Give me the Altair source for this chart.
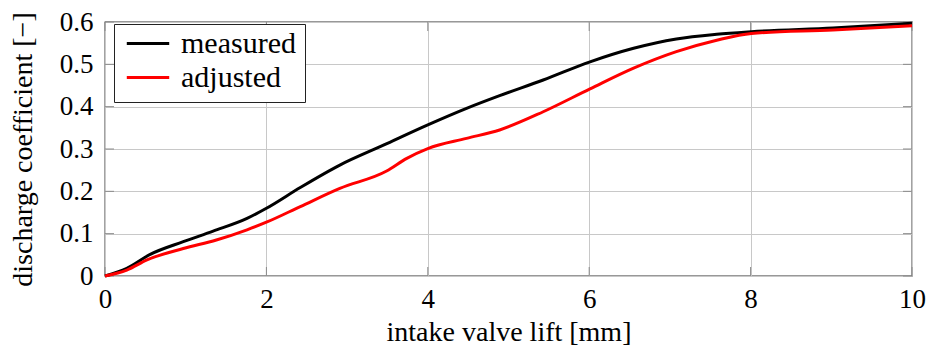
import altair as alt
import pandas as pd

# Discharge coefficient vs. intake valve lift
lift_measured = [0.0, 0.27, 0.56, 0.97, 1.34, 1.76, 2.0, 2.42, 2.91, 3.45, 4.0,
                 4.48, 4.89, 5.43, 6.01, 6.55, 7.08, 7.58, 8.01, 9.02, 10.0]
cd_measured = [0.0, 0.018, 0.051, 0.081, 0.106, 0.136, 0.160, 0.209, 0.262, 0.309, 0.357,
               0.396, 0.426, 0.463, 0.506, 0.538, 0.560, 0.571, 0.577, 0.586, 0.597]

lift_adjusted = [0.0, 0.27, 0.52, 0.97, 1.38, 1.76, 2.0, 2.42, 2.91, 3.49, 3.74, 4.0,
                 4.48, 4.89, 5.43, 6.01, 6.55, 7.08, 7.58, 8.01, 9.02, 10.0]
cd_adjusted = [0.0, 0.014, 0.038, 0.065, 0.085, 0.109, 0.127, 0.164, 0.207, 0.248, 0.278, 0.301,
               0.325, 0.345, 0.388, 0.442, 0.491, 0.530, 0.557, 0.573, 0.581, 0.591]

series_names = ["measured", "adjusted"]
series_colors = ["#000000", "#ff0000"]
x_ticks = [0, 2, 4, 6, 8, 10]
y_ticks = [0, 0.1, 0.2, 0.3, 0.4, 0.5, 0.6]

W, H = 807, 254
FONT = "Liberation Serif"
TICK_LEN = 9

curves = pd.concat([
    pd.DataFrame({"lift": lift_measured, "cd": cd_measured, "series": "measured", "order": range(len(lift_measured))}),
    pd.DataFrame({"lift": lift_adjusted, "cd": cd_adjusted, "series": "adjusted", "order": range(len(lift_adjusted))}),
])

x_scale = alt.Scale(domain=[0, 10], nice=False)
y_scale = alt.Scale(domain=[0, 0.6], nice=False)

lines = alt.Chart(curves).mark_line(strokeWidth=3, interpolate="monotone").encode(
    x=alt.X("lift:Q", scale=x_scale,
            axis=alt.Axis(values=x_ticks, title="intake valve lift [mm]", format="d")),
    y=alt.Y("cd:Q", scale=y_scale,
            axis=alt.Axis(values=y_ticks, title="discharge coefficient [−]",
                          labelExpr="datum.value == 0 ? '0' : format(datum.value, '.1f')")),
    color=alt.Color("series:N", scale=alt.Scale(domain=series_names, range=series_colors),
                    sort=series_names,
                    legend=alt.Legend(title=None, orient="none", legendX=9, legendY=2,
                                      symbolType="stroke", symbolStrokeWidth=3,
                                      symbolSize=1800, symbolOffset=2,
                                      labelFontSize=30, labelFont=FONT,
                                      labelColor="#000", labelOffset=10,
                                      strokeColor="#222", fillColor="white", padding=9,
                                      rowPadding=3, clipHeight=21)),
    order="order:Q",
)

# inward tick marks on all four sides of the frame
xt = pd.DataFrame({"v": x_ticks})
yt = pd.DataFrame({"v": y_ticks})
tick_color = "#8a8a8a"
ticks = [
    alt.Chart(xt).mark_rule(color=tick_color, strokeWidth=1).encode(
        x=alt.X("v:Q", scale=x_scale), y=alt.value(0), y2=alt.value(TICK_LEN)),
    alt.Chart(xt).mark_rule(color=tick_color, strokeWidth=1).encode(
        x=alt.X("v:Q", scale=x_scale), y=alt.value(H), y2=alt.value(H - TICK_LEN)),
    alt.Chart(yt).mark_rule(color=tick_color, strokeWidth=1).encode(
        y=alt.Y("v:Q", scale=y_scale), x=alt.value(0), x2=alt.value(TICK_LEN)),
    alt.Chart(yt).mark_rule(color=tick_color, strokeWidth=1).encode(
        y=alt.Y("v:Q", scale=y_scale), x=alt.value(W), x2=alt.value(W - TICK_LEN)),
]

chart = alt.layer(*ticks, lines).properties(
    width=W, height=H,
    autosize=alt.AutoSizeParams(type="none"),
    padding={"left": 105, "top": 22, "right": 16, "bottom": 78},
).configure_view(
    stroke="#333333", strokeWidth=1.3
).configure_axis(
    domain=False, ticks=False, grid=True, gridColor="#c8c8c8", gridWidth=1,
    labelFont=FONT, labelFontSize=27, labelColor="#000", labelFlush=False,
    titleFont=FONT, titleFontSize=28, titleFontWeight="normal", titleColor="#000",
).configure_axisX(
    labelPadding=10, titlePadding=6,
).configure_axisY(
    labelPadding=12, titlePadding=22,
)

chart.save("out.html", embed_options={"renderer": "svg", "actions": False})
